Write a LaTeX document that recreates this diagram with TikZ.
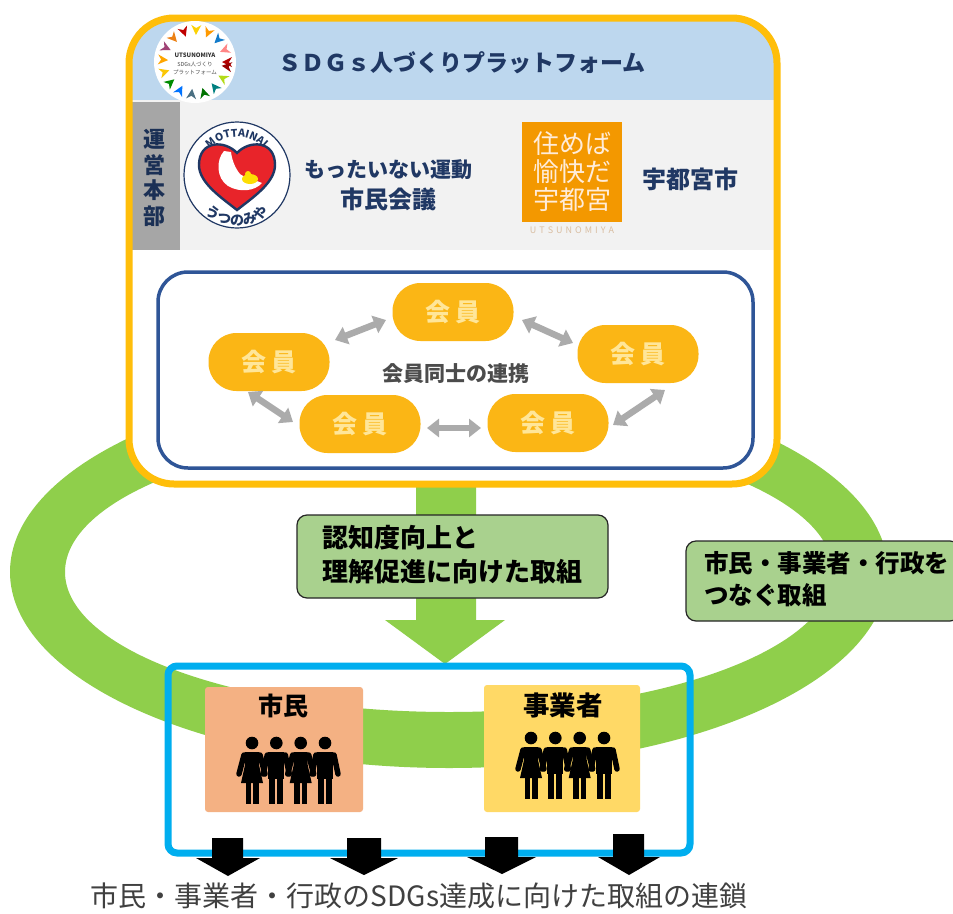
\documentclass[tikz,border=0pt]{standalone}
\usepackage{fontspec}
\setmainfont{Noto Sans CJK JP}
\usetikzlibrary{arrows.meta,decorations.text}
\newcommand\fsz[1]{\fontsize{#1}{#1}\selectfont}
\definecolor{ringgreen}{HTML}{8FCF4B}
\definecolor{gold}{HTML}{FFBE0A}
\definecolor{navy}{HTML}{203864}
\definecolor{cyanline}{HTML}{00AEEF}
\definecolor{labelgreen}{HTML}{A9D18E}
\definecolor{membercol}{HTML}{FBB615}
\definecolor{membertext}{HTML}{FFE699}
\definecolor{arrowgrey}{HTML}{ABABAB}
\definecolor{heartred}{HTML}{E8242A}
\tikzset{
  x=1pt,y=-1pt,
  member/.style={fill=membercol,rounded corners=28pt,minimum width=121pt,minimum height=58pt,inner sep=0pt,text=membertext,font=\fsz{25}\bfseries},
  linkarrow/.style={draw=arrowgrey,line width=6.5pt,{Triangle[length=12pt,width=18pt]}-{Triangle[length=12pt,width=18pt]}},
  greenlabel/.style={draw=black!85,line width=1.2pt,fill=labelgreen,rounded corners=10pt,inner sep=0pt},
  navytext/.style={text=navy,font=\bfseries,align=center,inner sep=0pt},
  downarrow/.style={fill=black},
  pics/woman/.style={code={
    \fill (0,0) circle (6.3);
    \fill (-7,9) -- (7,9) -- (7,22) -- (11,40) -- (-11,40) -- (-7,22) -- cycle;
    \draw[line width=5.5pt,line cap=round] (-8,12) -- (-13,31);
    \draw[line width=5.5pt,line cap=round] (8,12) -- (13,31);
    \fill (-6.5,40) rectangle (-1,61);
    \fill (1,40) rectangle (6.5,61);
  }},
  pics/man/.style={code={
    \fill (0,0) circle (6.3);
    \fill (-8,9) -- (8,9) -- (8,36) -- (-8,36) -- cycle;
    \draw[line width=5.5pt,line cap=round] (-9,12) -- (-13,31);
    \draw[line width=5.5pt,line cap=round] (9,12) -- (13,31);
    \fill (-7,36) rectangle (-1,61);
    \fill (1,36) rectangle (7,61);
  }},
  pics/family/.style={code={
    \pic at (0,0) {woman};
    \pic at (24.3,0) {man};
    \pic at (48.7,0) {woman};
    \pic at (73,0) {man};
  }},
}
\begin{document}
\begin{tikzpicture}
\useasboundingbox (0,0) rectangle (953,913);
\fill[white] (0,0) rectangle (953,913);
% ring
\fill[ringgreen,even odd rule] (449,572) ellipse [x radius=439,y radius=196]
  (449,572) ellipse [x radius=384,y radius=140];
% central arrow
\fill[ringgreen] (416,480) -- (476,480) -- (476,620) -- (505,620) -- (445,664) -- (385,620) -- (416,620) -- cycle;
% main panel
\fill[white,rounded corners=45pt] (129,18) rectangle (777,484);
\begin{scope}
  \clip[rounded corners=45pt] (129,18) rectangle (777,484);
  \fill[color={rgb,255:red,189;green,215;blue,238}] (129,18) rectangle (777,100);
  \fill[color={rgb,255:red,242;green,242;blue,242}] (129,100) rectangle (777,250);
  \fill[color={rgb,255:red,166;green,166;blue,166}] (129,102) rectangle (180,250);
\end{scope}
\draw[gold,line width=7pt,rounded corners=45pt] (129,18) rectangle (777,484);
% title
\node[text=navy,font=\fsz{23}\bfseries,inner sep=0pt] (title) at (462,63) {ＳＤＧｓ人づくりプラットフォーム};
% SDG logo
\fill[white] (195,62) circle (41);
\foreach \a/\c in {0/red!70!black,22/pink!70!red,44/cyan!60!blue,66/orange!80!yellow,88/yellow!70!orange,110/red!75!black,132/orange!70!brown,154/magenta!60!black,176/orange!70!yellow,198/yellow!60!orange,220/green!55!black,242/blue!55!cyan,264/cyan!45!black,286/green!45!black,308/teal,330/yellow!70!green,352/red!60!black}{
  \fill[\c,shift={(195,62)},rotate=\a] (27,0) -- (37,-5) -- (34,0) -- (37,5) -- cycle;
}
\node[font=\fsz{6}\bfseries,text=black!80,inner sep=0pt] (sdgA) at (195,55) {UTSUNOMIYA};
\node[font=\fsz{5.5},text=black!70,inner sep=0pt] (sdgB) at (195,64) {SDGs人づくり};
\node[font=\fsz{5.5},text=black!70,inner sep=0pt] (sdgC) at (195,72) {プラットフォーム};
% side label
\node[text=navy!85!black,font=\fsz{22}\bfseries,align=center,inner sep=0pt] (unei) at (154,178) {運\\[3.5pt]営\\[3.5pt]本\\[3.5pt]部};
% Mottainai logo
\draw[navy,fill=white,line width=1.2pt] (237,175) circle (53);
\draw[navy,line width=2.4pt,fill=heartred] (237,153) .. controls (225,140) and (199,140) .. (199,165) .. controls (199,183) and (222,198) .. (237,210) .. controls (252,198) and (275,183) .. (275,165) .. controls (275,140) and (249,140) .. cycle;
\fill[white] (224,151) .. controls (216,160) and (216,178) .. (228,186) .. controls (240,193) and (255,191) .. (262,183) .. controls (255,180) and (245,178) .. (240,174) .. controls (235,168) and (232,160) .. (231,152) -- cycle;
\fill[yellow!80!orange] (250,179) ellipse [x radius=8,y radius=5];
\fill[yellow!80!orange] (248,174) circle (3);
\path[decorate,decoration={text along path,text align=center,text color=navy,text={|\fsz{10.5}\bfseries|MOTTAINAI}}] (237,175) ++(200:38) arc [start angle=200,end angle=340,radius=38];
\path[decorate,decoration={text along path,text align=center,text color=navy,text={|\fsz{14}\bfseries|うつのみや}}] (237,175) ++(155:50) arc [start angle=155,end angle=25,radius=50];
\node[navytext,font=\fsz{21}\bfseries] (mottaA) at (388,170) {もったいない運動};
\node[navytext,font=\fsz{24}\bfseries] (mottaB) at (388,199) {市民会議};
% city logo
\fill[color={rgb,255:red,243;green,152;blue,0}] (522,122) rectangle (622,222);
\node[text=white!85!orange,font=\fsz{26},align=center,inner sep=0pt] (sumeba) at (572,172) {住めば\\[2pt]愉快だ\\[2pt]宇都宮};
\node[text=orange!25!white!85!black,font=\fsz{9},inner sep=0pt] (utsu) at (572,230) {U\kern3pt T\kern3pt S\kern3pt U\kern3pt N\kern3pt O\kern3pt M\kern3pt I\kern3pt Y\kern3pt A};
\node[navytext,font=\fsz{24}\bfseries] (city) at (690,179) {宇都宮市};
% member box
\draw[color={rgb,255:red,47;green,85;blue,151},line width=3.5pt,rounded corners=30pt] (158,272) rectangle (753,468);
\node[member] (mT) at (453,312) {会\kern5pt 員};
\node[member] (mR) at (638,354) {会\kern5pt 員};
\node[member] (mL) at (269,362) {会\kern5pt 員};
\node[member] (mBL) at (360,424) {会\kern5pt 員};
\node[member] (mBR) at (548,423) {会\kern5pt 員};
\node[text=black!70,font=\fsz{21}\bfseries,inner sep=0pt] (link) at (456,374) {会員同士の連携};
\draw[linkarrow] ([shift={(66,-22)}]mL.center) -- ([shift={(-67,8)}]mT.center);
\draw[linkarrow] ([shift={(69,8)}]mT.center) -- ([shift={(-65,-11)}]mR.center);
\draw[linkarrow] ([shift={(-21,30)}]mL.center) -- ([shift={(-67,-2)}]mBL.center);
\draw[linkarrow] ([shift={(67,4)}]mBL.center) -- ([shift={(-67,5)}]mBR.center);
\draw[linkarrow] ([shift={(65,2)}]mBR.center) -- ([shift={(27,36)}]mR.center);
% green labels
\draw[greenlabel] (297,515) rectangle (608,598);
\node[font=\fsz{26}\bfseries,align=left,inner sep=0pt,anchor=west] (lblA) at (322,555) {認知度向上と\\[8pt]理解促進に向けた取組};
\draw[greenlabel] (686,541) rectangle (960,621);
\node[font=\fsz{24.5}\bfseries,align=left,inner sep=0pt,anchor=west] (lblB) at (704,579) {市民・事業者・行政を\\[8pt]つなぐ取組};
% people boxes
\fill[color={rgb,255:red,244;green,177;blue,131},rounded corners=3pt] (205,687) rectangle (363,812);
\fill[color={rgb,255:red,255;green,217;blue,102},rounded corners=3pt] (484,685) rectangle (640,812);
\node[font=\fsz{25}\bfseries,inner sep=0pt] (shimin) at (283,706) {市民};
\node[font=\fsz{26.5}\bfseries,inner sep=0pt] (jigyo) at (563,705) {事業者};
\pic at (252,743) {family};
\pic at (531,738) {family};
% blue frame
\draw[cyanline,line width=7pt,rounded corners=9pt] (168,666) rectangle (690,853);
% black arrows
\fill[downarrow] (212,838) -- (243,838) -- (243,858) -- (260,858) -- (228,876) -- (196,858) -- (212,858) -- cycle;
\fill[downarrow] (347,838) -- (381,838) -- (381,858) -- (398,858) -- (364,875) -- (330,858) -- (347,858) -- cycle;
\fill[downarrow] (485,837) -- (518,837) -- (518,857) -- (536,857) -- (502,874) -- (467,857) -- (485,857) -- cycle;
\fill[downarrow] (613,834) -- (644,834) -- (644,857) -- (660,857) -- (629,875) -- (598,857) -- (613,857) -- cycle;
% bottom text
\node[text=black!75,font=\fsz{28},inner sep=0pt] (chain) at (419,896) {市民・事業者・行政のSDGs達成に向けた取組の連鎖};
\end{tikzpicture}
\end{document}
